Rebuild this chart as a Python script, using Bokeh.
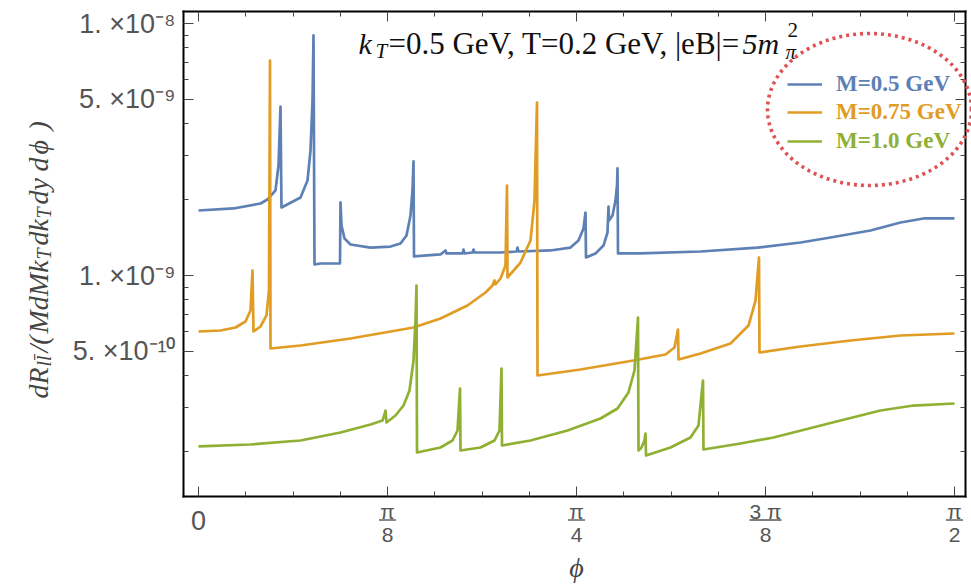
import numpy as np
from bokeh.plotting import figure
from bokeh.models import (Range1d, FixedTicker, LogAxis, LinearAxis, Label, Legend, LegendItem,
                          PolyAnnotation, CustomLabelingPolicy)
from bokeh.embed import file_html
from bokeh.resources import INLINE

# ---------------- data (phi in units of pi, rate in units of 1e-9) ----------------
phi_m050 = [0, 0.02315, 0.04101, 0.04563, 0.05093, 0.05291, 0.05423, 0.05489, 0.06746, 0.07209,
            0.07407, 0.07540, 0.07606, 0.07672, 0.08069, 0.09259, 0.09358, 0.09392, 0.09458, 0.09656,
            0.10053, 0.11376, 0.12698, 0.13360, 0.13757, 0.14021, 0.14153, 0.14220, 0.14253, 0.16005,
            0.16336, 0.16402, 0.17460, 0.17526, 0.17593, 0.18122, 0.18188, 0.18254, 0.19974, 0.21032,
            0.21098, 0.21164, 0.23280, 0.24603, 0.25132, 0.25463, 0.25595, 0.25628, 0.26257, 0.26786,
            0.27050, 0.27116, 0.27149, 0.27381, 0.27579, 0.27679, 0.27712, 0.27745, 0.29233, 0.33201,
            0.36971, 0.39815, 0.41799, 0.44444, 0.46429, 0.47950, 0.5]
rate_m050 = [1.811, 1.845, 1.931, 2.003, 2.175, 2.733, 4.684, 1.861, 2.039, 2.382,
             3.133, 4.948, 8.964, 1.106, 1.116, 1.116, 1.116, 1.949, 1.579, 1.402,
             1.327, 1.291, 1.303, 1.340, 1.441, 1.730, 2.175, 2.835, 1.190, 1.212,
             1.257, 1.223, 1.223, 1.268, 1.223, 1.234, 1.268, 1.234, 1.234, 1.245,
             1.291, 1.245, 1.257, 1.291, 1.377, 1.536, 1.778, 1.179, 1.223, 1.315,
             1.481, 1.878, 1.653, 1.730, 1.984, 2.276, 2.659, 1.223, 1.223, 1.245,
             1.291, 1.352, 1.415, 1.509, 1.623, 1.684, 1.684]

phi_m075 = [0, 0.01455, 0.02447, 0.03108, 0.03439, 0.03571, 0.03638, 0.04101, 0.04497, 0.04663,
            0.04729, 0.04762, 0.06746, 0.10053, 0.14220, 0.16005, 0.17791, 0.18981, 0.19444, 0.19577,
            0.19643, 0.19974, 0.20304, 0.20403, 0.20437, 0.21296, 0.21958, 0.22222, 0.22388, 0.22421,
            0.25265, 0.28770, 0.30886, 0.31481, 0.31713, 0.31746, 0.33201, 0.35185, 0.36376, 0.36839,
            0.37070, 0.37103, 0.39815, 0.43122, 0.46429, 0.5]
rate_m075 = [0.5995, 0.6050, 0.6218, 0.6569, 0.7262, 1.047, 0.5995, 0.6275, 0.6940, 0.8720,
             7.133, 0.5132, 0.5275, 0.5623, 0.6218, 0.6753, 0.7603, 0.8562, 0.9127, 0.9554,
             0.9211, 0.9730, 1.096, 2.276, 0.9819, 1.126, 1.377, 1.984, 4.859, 0.4010,
             0.4236, 0.4598, 0.4859, 0.5179, 0.6105, 0.4642, 0.4903, 0.5373, 0.6332, 0.7957,
             1.179, 0.4949, 0.5226, 0.5521, 0.5779, 0.5886]

phi_m100 = [0, 0.03439, 0.06746, 0.09392, 0.11376, 0.12169, 0.12302, 0.12368, 0.12434, 0.13029,
            0.13558, 0.13955, 0.14220, 0.14352, 0.14418, 0.14451, 0.16005, 0.16799, 0.17130, 0.17295,
            0.17328, 0.18651, 0.19577, 0.19907, 0.20040, 0.20073, 0.21958, 0.24405, 0.26587, 0.27712,
            0.28439, 0.28836, 0.29067, 0.29101, 0.29299, 0.29497, 0.29563, 0.29597, 0.31217, 0.32540,
            0.33069, 0.33366, 0.33399, 0.35847, 0.38029, 0.42460, 0.45106, 0.47288, 0.5]
rate_m100 = [0.2097, 0.2135, 0.2214, 0.2382, 0.2563, 0.2659, 0.2809, 0.2912, 0.2610, 0.2783,
             0.3048, 0.3497, 0.4598, 0.6629, 0.9127, 0.1984, 0.2077, 0.2214, 0.2426, 0.3561,
             0.2021, 0.2077, 0.2214, 0.2426, 0.4276, 0.2116, 0.2214, 0.2426, 0.2707, 0.2967,
             0.3434, 0.4198, 0.6813, 0.2021, 0.2077, 0.2214, 0.2360, 0.1931, 0.2077, 0.2276,
             0.2540, 0.3831, 0.2040, 0.2154, 0.2276, 0.2659, 0.2912, 0.3048, 0.3105]

series_labels = ["M=0.5 GeV", "M=0.75 GeV", "M=1.0 GeV"]
series_colors = ["#5E81B5", "#E19C24", "#8FB032"]

x_tick_frac = [0, 1 / 8, 1 / 4, 3 / 8, 1 / 2]          # multiples of pi
x_tick_num = ["0", "π", "π", "3 π", "π"]
x_tick_den = ["", "8", "4", "8", "2"]
x_minor_frac = [k / 32 for k in range(17) if k % 4]

y_tick_vals = [5e-10, 1e-9, 5e-9, 1e-8]
y_tick_text = ["5. ×10⁻¹⁰", "1. ×10⁻⁹", "5. ×10⁻⁹", "1. ×10⁻⁸"]
y_minor_vals = [m * 10.0 ** e for e in (-10, -9) for m in (2, 3, 4, 6, 7, 8, 9)]

# ---------------- layout (canvas pixels) ----------------
CW, CH = 971, 585
BOX_L, BOX_R, BOX_T, BOX_B = 183, 965, 11, 496     # plot box drawn by the four axes
PX_X0, PX_XEND = 198, 954                           # where phi = 0 and phi = pi/2 sit
PX_Y1E9, PX_DEC = 275, 252                          # where 1e-9 sits, pixels per decade
GRAY = "#555555"


def xdata(px):
    return (px - PX_X0) / (PX_XEND - PX_X0) * (np.pi / 2)


def ydata(py):
    return 10.0 ** (-9 - (py - PX_Y1E9) / PX_DEC)


def sx(ax):
    return ax


def sy(ay):
    return CH - ay


p = figure(width=CW, height=CH, output_backend="svg", toolbar_location=None,
           x_range=Range1d(xdata(0), xdata(CW)), y_range=Range1d(ydata(CH), ydata(0)),
           y_axis_type="log", min_border=0)
p.background_fill_color = "white"
p.border_fill_color = "white"
p.outline_line_color = None
p.xgrid.visible = False
p.ygrid.visible = False

xt = FixedTicker(ticks=[f * np.pi for f in x_tick_frac], minor_ticks=[f * np.pi for f in x_minor_frac])
yt = FixedTicker(ticks=y_tick_vals, minor_ticks=y_minor_vals)
xb = (xdata(BOX_L), xdata(BOX_R))
yb = (ydata(BOX_B), ydata(BOX_T))


def style_axis(ax, labels=True):
    ax.axis_line_color = "black"
    ax.axis_line_width = 2
    ax.axis_line_cap = "square"
    ax.major_tick_in = 10
    ax.major_tick_out = 0
    ax.minor_tick_in = 5
    ax.minor_tick_out = 0
    ax.major_tick_line_color = "#444444"
    ax.minor_tick_line_color = "#444444"
    if not labels:
        ax.major_label_policy = CustomLabelingPolicy(code="return []")
        ax.major_label_text_font_size = "0px"
        ax.major_label_standoff = 0


bottom_ax = p.xaxis[0]
bottom_ax.ticker = xt
bottom_ax.fixed_location = ydata(BOX_B)
bottom_ax.bounds = xb
style_axis(bottom_ax, labels=False)

left_ax = p.yaxis[0]
left_ax.ticker = yt
left_ax.fixed_location = xdata(BOX_L)
left_ax.bounds = yb
style_axis(left_ax)
left_ax.major_label_overrides = dict(zip(y_tick_vals, y_tick_text))
left_ax.major_label_text_font = "Liberation Sans"
left_ax.major_label_text_font_size = "27px"
left_ax.major_label_text_color = GRAY
left_ax.major_label_standoff = 8

top_ax = LinearAxis(ticker=xt, fixed_location=ydata(BOX_T), bounds=xb)
style_axis(top_ax, labels=False)
p.add_layout(top_ax, "above")
right_ax = LogAxis(ticker=yt, fixed_location=xdata(BOX_R), bounds=yb)
style_axis(right_ax, labels=False)
p.add_layout(right_ax, "right")

# ---------------- curves ----------------
renderers = []
for ph, rt, c in zip([phi_m050, phi_m075, phi_m100], [rate_m050, rate_m075, rate_m100], series_colors):
    r = p.line(np.array(ph) * np.pi, np.array(rt) * 1e-9, line_color=c, line_width=2.7,
               line_join="round")
    renderers.append(r)

# ---------------- legend (one per series so each text keeps its colour) ----------------
legend_centers = [84, 112, 141]
for r, lab, c, cy in zip(renderers, series_labels, series_colors, legend_centers):
    leg = Legend(items=[LegendItem(label=lab, renderers=[r])],
                 location=(sx(787), sy(cy + 15)), padding=0, margin=0,
                 border_line_color=None, background_fill_alpha=0,
                 glyph_width=35, glyph_height=30, label_height=30, label_standoff=14,
                 label_text_font="Liberation Serif", label_text_font_style="bold",
                 label_text_font_size="23px", label_text_color=c, label_text_baseline="middle")
    p.add_layout(leg)

# dotted ellipse around legend
t = np.linspace(0, 2 * np.pi, 121)
p.add_layout(PolyAnnotation(xs=list(sx(869) + 102 * np.cos(t)), ys=list(sy(109) + 76 * np.sin(t)),
                            xs_units="screen", ys_units="screen", fill_alpha=0,
                            line_color="#E05252", line_alpha=1, line_width=3.6, line_dash="3 4"))


def add_text(txt, x, y, size, font="Liberation Serif", style="normal", color="#111111",
             align="left", x_units="screen", angle=0.0):
    p.add_layout(Label(x=x, y=y, x_units=x_units, y_units="screen", text=txt, angle=angle,
                       text_font=font, text_font_style=style, text_font_size=f"{size}px",
                       text_color=color, text_align=align, text_baseline="middle"))


# ---------------- title inside the box (y = visual centre line) ----------------
title_parts = [("k", 358, 43, "italic", 30), ("T", 375, 50, "italic", 21),
               ("=0.5 GeV, T=0.2 GeV, |eB|=", 388, 43, "normal", 31),
               ("5m", 742, 43, "italic", 30), ("π", 785, 51, "italic", 21),
               ("2", 787, 29, "normal", 21)]
for txt, ax_, ay_, st, fs in title_parts:
    add_text(txt, sx(ax_), sy(ay_), fs, style=st)

# ---------------- x tick labels (stacked fractions) ----------------
px2data = (np.pi / 2) / (PX_XEND - PX_X0)
for f, num, den in zip(x_tick_frac, x_tick_num, x_tick_den):
    xv = f * np.pi
    if den == "":
        add_text(num, xv, sy(520), 27, font="Liberation Sans", color=GRAY, align="center",
                 x_units="data")
        continue
    add_text(num, xv, sy(511), 21, font="Liberation Sans", color=GRAY, align="center", x_units="data")
    add_text(den, xv, sy(534), 21, font="Liberation Sans", color=GRAY, align="center", x_units="data")
    hw = (16 if len(num) > 1 else 8.5) * px2data
    p.add_layout(PolyAnnotation(xs=[xv - hw, xv + hw], ys=[sy(519.5), sy(519.5)],
                                xs_units="data", ys_units="screen", fill_alpha=0,
                                line_color=GRAY, line_alpha=1, line_width=1.4))

# x axis label
add_text("ϕ", np.pi / 4, sy(567), 28, style="italic", color="#444444", align="center",
         x_units="data")

# ---------------- rotated y axis label (x = centre line, y = start of each piece) ----------------
ylab_parts = [("dR", 398, 37.5, 28), ("ll\u0304", 366, 43, 20), ("/(", 352, 37.5, 28),
              ("MdMk", 333, 37.5, 28), ("T", 259, 43, 20), ("dk", 245, 37.5, 28),
              ("T", 218, 43, 20), ("dy", 204, 37.5, 28), ("d", 171, 37.5, 28),
              ("ϕ", 154, 37.5, 28), (")", 130, 37.5, 28)]
for txt, ay_, ax_, fs in ylab_parts:
    add_text(txt, sx(ax_), sy(ay_), fs, style="italic", color="#444444", angle=np.pi / 2)

open("out.html", "w").write(file_html(p, INLINE))
